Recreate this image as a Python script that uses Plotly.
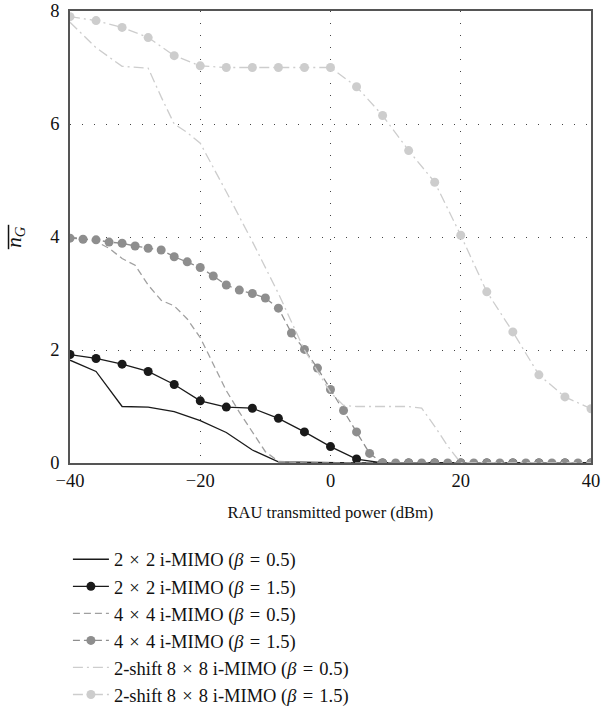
import plotly.graph_objects as go

# ---- data ----
x_2x2_b05 = [-40, -36, -32, -28, -24, -20, -16, -12, -8, -4, 0, 4, 8, 12, 16, 20, 24, 28, 32, 36, 40]
y_2x2_b05 = [1.82, 1.62, 1.00, 0.99, 0.91, 0.75, 0.54, 0.23, 0.02, 0.01, 0, 0, 0, 0, 0, 0, 0, 0, 0, 0, 0]

x_2x2_b15 = [-40, -36, -32, -28, -24, -20, -16, -12, -8, -4, 0, 4, 8, 12, 16, 20, 24, 28, 32, 36, 40]
y_2x2_b15 = [1.92, 1.85, 1.75, 1.62, 1.39, 1.10, 0.99, 0.97, 0.79, 0.55, 0.29, 0.07, 0, 0, 0, 0, 0, 0, 0, 0, 0]

x_4x4_b05 = [-40, -38, -36, -34, -32, -30, -28, -26, -24, -22, -20, -18, -16, -14, -12, -10, -8, -6, -4, 0, 10, 20, 30, 40]
y_4x4_b05 = [4.0, 3.97, 3.92, 3.8, 3.62, 3.5, 3.15, 2.88, 2.78, 2.55, 2.22, 1.75, 1.28, 0.9, 0.55, 0.2, 0.03, 0.01, 0, 0, 0, 0, 0, 0]

x_4x4_b15 = list(range(-40, 41, 2))
y_4x4_b15 = [3.98, 3.96, 3.95, 3.91, 3.89, 3.84, 3.80, 3.77, 3.65, 3.56, 3.46,
             3.31, 3.15, 3.06, 3.00, 2.92, 2.74, 2.30, 2.01, 1.68, 1.30,
             0.93, 0.55, 0.17, 0, 0, 0, 0, 0, 0, 0, 0, 0, 0, 0, 0, 0, 0, 0, 0, 0]

x_8x8_b05 = [-40, -36, -32, -28, -26, -24, -22, -20, -16, -12, -8, -4, 0, 2, 4, 8, 12, 14, 16, 18, 20, 24, 28, 32, 36, 40]
y_8x8_b05 = [7.8, 7.35, 7.02, 6.99, 6.48, 6.0, 5.85, 5.66, 4.8, 3.92, 3.0, 2.0, 1.25, 1.02, 1.0, 1.0, 1.0, 0.97, 0.65, 0.3, 0, 0, 0, 0, 0, 0]

x_8x8_b15 = list(range(-40, 41, 4))
y_8x8_b15 = [7.90, 7.83, 7.71, 7.53, 7.21, 7.03, 7.0, 7.0, 7.0, 7.0, 7.0,
             6.66, 6.15, 5.53, 4.97, 4.03, 3.03, 2.32, 1.56, 1.17, 0.96]

SP = "\u2004"  # three-per-em space, to mimic the math spacing of the original
names = [
    f"2{SP}×{SP}2 i-MIMO (<i>β</i>{SP}={SP}0.5)",
    f"2{SP}×{SP}2 i-MIMO (<i>β</i>{SP}={SP}1.5)",
    f"4{SP}×{SP}4 i-MIMO (<i>β</i>{SP}={SP}0.5)",
    f"4{SP}×{SP}4 i-MIMO (<i>β</i>{SP}={SP}1.5)",
    f"2-shift 8{SP}×{SP}8 i-MIMO (<i>β</i>{SP}={SP}0.5)",
    f"2-shift 8{SP}×{SP}8 i-MIMO (<i>β</i>{SP}={SP}1.5)",
]

x_ticks = [-40, -20, 0, 20, 40]
y_ticks = [0, 2, 4, 6, 8]

FONT = "Liberation Serif"
TXT = "#111111"
BLACK = "#1a1a1a"
GRAY = "#8e8e8e"
GRAY2 = "#a0a0a0"
LIGHT = "#cdcdcd"

fig = go.Figure()
fig.add_trace(go.Scatter(x=x_2x2_b05, y=y_2x2_b05, name=names[0], mode="lines",
                         line=dict(color=BLACK, width=1.3)))
fig.add_trace(go.Scatter(x=x_2x2_b15, y=y_2x2_b15, name=names[1], mode="lines+markers",
                         line=dict(color=BLACK, width=1.3),
                         marker=dict(color=BLACK, size=9)))
fig.add_trace(go.Scatter(x=x_4x4_b05, y=y_4x4_b05, name=names[2], mode="lines",
                         line=dict(color=GRAY2, width=1.3, dash="7px,4px")))
fig.add_trace(go.Scatter(x=x_4x4_b15, y=y_4x4_b15, name=names[3], mode="lines+markers",
                         line=dict(color=GRAY, width=1.3, dash="7px,4px"),
                         marker=dict(color=GRAY, size=9)))
fig.add_trace(go.Scatter(x=x_8x8_b05, y=y_8x8_b05, name=names[4], mode="lines",
                         line=dict(color=LIGHT, width=1.3, dash="10px,4px,2px,4px")))
fig.add_trace(go.Scatter(x=x_8x8_b15, y=y_8x8_b15, name=names[5], mode="lines+markers",
                         line=dict(color=LIGHT, width=1.3, dash="10px,4px,2px,4px"),
                         marker=dict(color=LIGHT, size=9)))

axis_common = dict(
    showline=True, linecolor="#555555", linewidth=1.5, mirror=True,
    showgrid=True, gridcolor="#444444", gridwidth=1, griddash="1px,11px",
    zeroline=False, ticks="", automargin=False,
    tickfont=dict(family=FONT, size=18.5, color=TXT),
)

fig.update_xaxes(range=[-40, 40], tickvals=x_ticks, **axis_common,
                 title=dict(text="RAU transmitted power (dBm)",
                            font=dict(family=FONT, size=16.5, color=TXT), standoff=16))
fig.update_yaxes(range=[0, 8], tickvals=y_ticks, ticklabelstandoff=5, **axis_common)

# y-axis label: overlined n_G (rotated text plus an overline bar)
fig.add_annotation(text="<i>n</i><sub><i>G</i></sub>", textangle=-90, xref="paper", yref="paper",
                   x=-0.106, y=0.5, xanchor="center", yanchor="middle", showarrow=False,
                   font=dict(family=FONT, size=21, color=TXT))
fig.add_shape(type="line", xref="paper", yref="paper", x0=-0.118, x1=-0.118, y0=0.473, y1=0.527,
              line=dict(color=TXT, width=1.5))

fig.update_layout(
    width=602, height=706,
    margin=dict(l=70, r=11, t=11, b=243, autoexpand=False),
    plot_bgcolor="white", paper_bgcolor="white",
    showlegend=True,
    legend=dict(x=-0.004, y=-0.172, xanchor="left", yanchor="top", orientation="v",
                font=dict(family=FONT, size=18.5, color=TXT),
                itemwidth=36, bgcolor="rgba(0,0,0,0)"),
    font=dict(family=FONT),
)

fig.write_html("out.html")
